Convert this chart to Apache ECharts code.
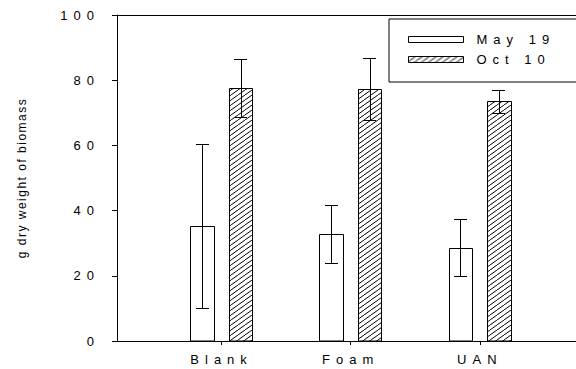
<!DOCTYPE html>
<html><head><meta charset="utf-8">
<script src="https://cdn.jsdelivr.net/npm/echarts@6/dist/echarts.min.js"></script>
<style>
html,body{margin:0;padding:0;background:#fff;}
#main{width:576px;height:369px;}
#main text{letter-spacing:6px;}
</style></head><body><div id="main"></div>
<script>
const categories = ['Blank', 'Foam', 'UAN'];
const seriesNames = ['May 19', 'Oct 10'];
const may19 = [35.3, 32.9, 28.6];
const may19Err = [25.1, 8.9, 8.8];
const oct10 = [77.6, 77.3, 73.5];
const oct10Err = [8.9, 9.5, 3.6];
const yTitle = 'g dry weight of biomass';

// layout constants (x-axis units: category centres at 1,2,3)
const OFFSETS = [-0.151, 0.147];
const BAR_W = 0.182;
const CAP = 0.05;
const FONT = '"Liberation Sans", Arial, sans-serif';

// hatch pattern
const tile = document.createElement('canvas');
tile.width = 7; tile.height = 5;
const tc = tile.getContext('2d');
tc.strokeStyle = '#000'; tc.lineWidth = 1;
tc.beginPath();
tc.moveTo(-7, 5); tc.lineTo(0, 0);
tc.moveTo(0, 5); tc.lineTo(7, 0);
tc.moveTo(7, 5); tc.lineTo(14, 0);
tc.stroke();
const hatch = { image: tile, repeat: 'repeat', imageWidth: 7, imageHeight: 5 };
const fills = ['#fff', hatch];

function crisp(v) { return Math.round(v) + 0.5; }

function renderItem(params, api) {
  const x = api.value(0), v = api.value(1), e = api.value(2);
  const off = OFFSETS[params.seriesIndex];
  const c = x + off;
  const p0 = api.coord([c - BAR_W / 2, v]);
  const p1 = api.coord([c + BAR_W / 2, 0]);
  const top = api.coord([c, v + e]);
  const bot = api.coord([c, v - e]);
  const cl = api.coord([c - CAP, v]);
  const cr = api.coord([c + CAP, v]);
  const x0 = crisp(p0[0]), x1 = crisp(p1[0]);
  const yT = crisp(p0[1]), yB = p1[1];
  const cx = crisp(top[0]);
  const ty = crisp(top[1]), by = crisp(bot[1]);
  const lx = Math.round(cl[0]), rx = Math.round(cr[0]);
  const ls = { stroke: '#000', lineWidth: 1 };
  return {
    type: 'group',
    children: [
      { type: 'rect', shape: { x: x0, y: yT, width: x1 - x0, height: yB - yT },
        style: { fill: fills[params.seriesIndex], stroke: '#000', lineWidth: 1 } },
      { type: 'line', shape: { x1: cx, y1: ty, x2: cx, y2: by }, style: ls },
      { type: 'line', shape: { x1: lx, y1: ty, x2: rx, y2: ty }, style: ls },
      { type: 'line', shape: { x1: lx, y1: by, x2: rx, y2: by }, style: ls }
    ]
  };
}

const chart = echarts.init(document.getElementById('main'), null, { renderer: 'svg' });
const axisLineStyle = { color: '#000', width: 1 };
chart.setOption({
  animation: false,
  backgroundColor: '#fff',
  textStyle: { fontFamily: FONT },
  grid: { left: 117, right: 0, top: 15, bottom: 28 },
  legend: {
    orient: 'vertical', left: 389, top: 19,
    itemWidth: 55, itemHeight: 6, itemGap: 7,
    padding: [14, 70, 16, 19],
    borderColor: '#000', borderWidth: 1, backgroundColor: '#fff',
    selectedMode: false,
    textStyle: { fontSize: 13, color: '#000', fontFamily: FONT, padding: [0, 0, 0, 8] },
    data: [
      { name: seriesNames[0], icon: 'rect', itemStyle: { color: '#fff', borderColor: '#000', borderWidth: 1 } },
      { name: seriesNames[1], icon: 'rect', itemStyle: { color: hatch, borderColor: '#000', borderWidth: 1 } }
    ]
  },
  xAxis: [{
    type: 'value', min: 0.19, max: 3.745, position: 'bottom',
    axisLine: { show: true, lineStyle: axisLineStyle },
    axisTick: { show: true, inside: false, length: 4, customValues: [1, 2, 3], lineStyle: axisLineStyle },
    axisLabel: { customValues: [1, 2, 3], margin: 12, fontSize: 13, color: '#000', fontFamily: FONT,
      formatter: v => categories[Math.round(v) - 1] },
    splitLine: { show: false }
  }, {
    type: 'value', min: 0.19, max: 3.745, position: 'top',
    axisLine: { show: true, lineStyle: axisLineStyle },
    axisTick: { show: false }, axisLabel: { show: false }, splitLine: { show: false }
  }],
  yAxis: {
    type: 'value', min: 0, max: 100, interval: 20,
    axisLine: { show: true, lineStyle: axisLineStyle },
    axisTick: { show: true, inside: false, length: 5, lineStyle: axisLineStyle },
    axisLabel: { margin: 17, fontSize: 13, color: '#000', fontFamily: FONT },
    splitLine: { show: false },
    name: yTitle, nameLocation: 'middle', nameGap: 89,
    nameTextStyle: { fontSize: 12, color: '#000', fontFamily: FONT }
  },
  series: [
    { name: seriesNames[0], type: 'custom', renderItem, clip: false,
      itemStyle: { color: '#fff', borderColor: '#000' },
      encode: { x: 0, y: 1 },
      data: may19.map((v, i) => [i + 1, v, may19Err[i]]) },
    { name: seriesNames[1], type: 'custom', renderItem, clip: false,
      itemStyle: { color: hatch, borderColor: '#000' },
      encode: { x: 0, y: 1 },
      data: oct10.map((v, i) => [i + 1, v, oct10Err[i]]) }
  ]
});

function applySpacing() {
  document.querySelectorAll('#main text').forEach(t => {
    if (t.textContent === yTitle) t.style.setProperty('letter-spacing', '1.5px');
  });
}
applySpacing();
chart.on('finished', applySpacing);
</script></body></html>
